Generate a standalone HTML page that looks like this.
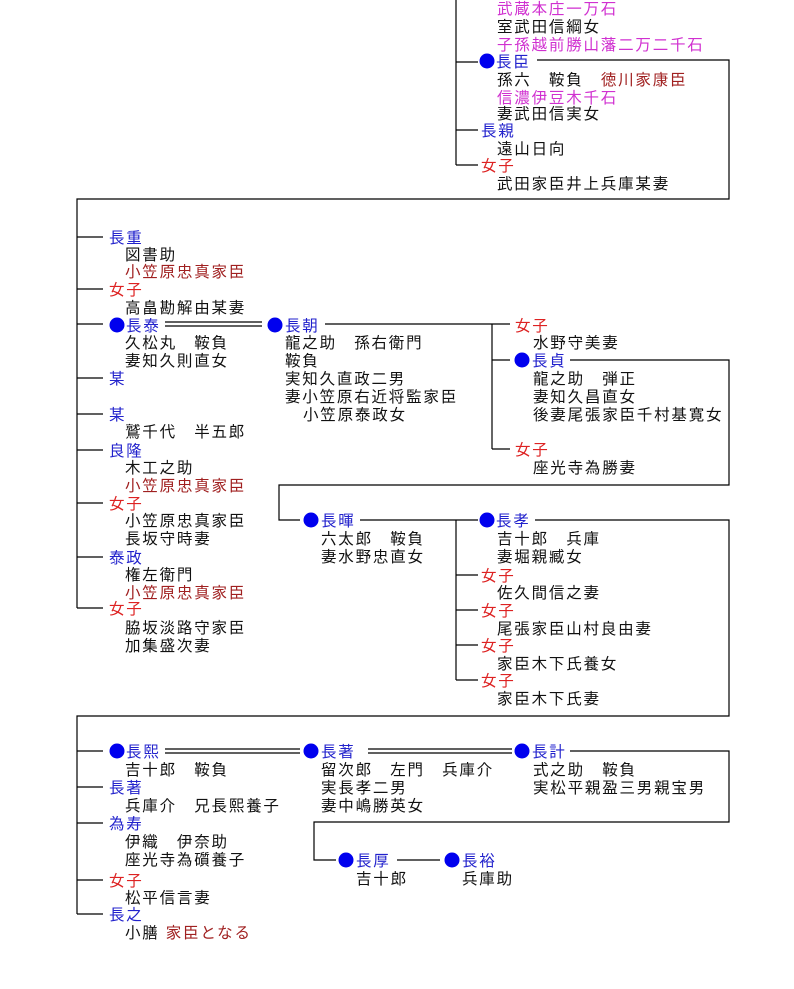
<!DOCTYPE html>
<html><head><meta charset="utf-8"><style>
body{margin:0;background:#fff;}
svg text{font-family:"Liberation Sans","Noto Sans CJK JP",sans-serif;font-size:15.5px;letter-spacing:1.8px;fill:#111;}
.b{fill:#2222cc}.r{fill:#dd2222}.d{fill:#a02020}.m{fill:#d030d0}
line,polyline{stroke:#000;stroke-width:1.2;fill:none}
circle{fill:#0000ee}
</style></head><body>
<svg width="794" height="984" viewBox="0 0 794 984" xmlns="http://www.w3.org/2000/svg">
<!-- section 1 -->
<line x1="456" y1="0" x2="456" y2="165"/>
<line x1="456" y1="62" x2="478" y2="62"/>
<line x1="456" y1="130" x2="478" y2="130"/>
<line x1="456" y1="165" x2="478" y2="165"/>
<circle cx="487" cy="61" r="7.5"/>
<polyline points="537,60 729,60 729,199 77,199 77,608"/>
<text x="497" y="14" class="m">武蔵本庄一万石</text>
<text x="497" y="32">室武田信綱女</text>
<text x="497" y="50" class="m">子孫越前勝山藩二万二千石</text>
<text x="496" y="67" class="b">長臣</text>
<text x="497" y="85">孫六　鞍負　<tspan class="d">徳川家康臣</tspan></text>
<text x="497" y="103" class="m">信濃伊豆木千石</text>
<text x="497" y="119">妻武田信実女</text>
<text x="481" y="136" class="b">長親</text>
<text x="497" y="154">遠山日向</text>
<text x="481" y="171" class="r">女子</text>
<text x="497" y="189">武田家臣井上兵庫某妻</text>

<!-- section 2 left -->
<line x1="77" y1="237" x2="103" y2="237"/>
<line x1="77" y1="289" x2="103" y2="289"/>
<line x1="77" y1="324" x2="103" y2="324"/>
<line x1="77" y1="378" x2="103" y2="378"/>
<line x1="77" y1="414" x2="103" y2="414"/>
<line x1="77" y1="450" x2="103" y2="450"/>
<line x1="77" y1="503" x2="103" y2="503"/>
<line x1="77" y1="557" x2="103" y2="557"/>
<line x1="77" y1="608" x2="103" y2="608"/>
<text x="109" y="243" class="b">長重</text>
<text x="125" y="260">図書助</text>
<text x="125" y="277" class="d">小笠原忠真家臣</text>
<text x="109" y="295" class="r">女子</text>
<text x="125" y="313">高畠勘解由某妻</text>
<circle cx="117" cy="325" r="7.5"/>
<text x="126" y="331" class="b">長泰</text>
<line x1="165" y1="322" x2="262" y2="322"/>
<line x1="165" y1="326" x2="262" y2="326"/>
<text x="125" y="348">久松丸　鞍負</text>
<text x="125" y="366">妻知久則直女</text>
<text x="109" y="384" class="b">某</text>
<text x="109" y="420" class="b">某</text>
<text x="125" y="437">鷲千代　半五郎</text>
<text x="109" y="456" class="b">良隆</text>
<text x="125" y="473">木工之助</text>
<text x="125" y="491" class="d">小笠原忠真家臣</text>
<text x="109" y="509" class="r">女子</text>
<text x="125" y="526">小笠原忠真家臣</text>
<text x="125" y="544">長坂守時妻</text>
<text x="109" y="563" class="b">泰政</text>
<text x="125" y="580">権左衛門</text>
<text x="125" y="598" class="d">小笠原忠真家臣</text>
<text x="109" y="614" class="r">女子</text>
<text x="125" y="633">脇坂淡路守家臣</text>
<text x="125" y="651">加集盛次妻</text>

<!-- 長朝 -->
<circle cx="275" cy="325" r="7.5"/>
<text x="285" y="331" class="b">長朝</text>
<line x1="325" y1="324" x2="492" y2="324"/>
<text x="285" y="348">龍之助　孫右衛門</text>
<text x="285" y="366">鞍負</text>
<text x="285" y="384">実知久直政二男</text>
<text x="285" y="402">妻小笠原右近将監家臣</text>
<text x="303" y="420">小笠原泰政女</text>
<line x1="492" y1="324" x2="492" y2="449"/>
<line x1="492" y1="324" x2="510" y2="324"/>
<line x1="492" y1="360" x2="510" y2="360"/>
<line x1="492" y1="449" x2="510" y2="449"/>
<text x="515" y="331" class="r">女子</text>
<text x="533" y="348">水野守美妻</text>
<circle cx="522" cy="360" r="7.5"/>
<text x="532" y="366" class="b">長貞</text>
<polyline points="570,360 729,360 729,485 279,485 279,520 300,520"/>
<text x="533" y="384">龍之助　弾正</text>
<text x="533" y="402">妻知久昌直女</text>
<text x="533" y="420">後妻尾張家臣千村基寛女</text>
<text x="515" y="455" class="r">女子</text>
<text x="533" y="473">座光寺為勝妻</text>

<!-- 長暉 / 長孝 -->
<circle cx="311" cy="520" r="7.5"/>
<text x="321" y="526" class="b">長暉</text>
<line x1="360" y1="520" x2="478" y2="520"/>
<text x="321" y="544">六太郎　鞍負</text>
<text x="321" y="562">妻水野忠直女</text>
<line x1="456" y1="520" x2="456" y2="680"/>
<line x1="456" y1="575" x2="478" y2="575"/>
<line x1="456" y1="610" x2="478" y2="610"/>
<line x1="456" y1="645" x2="478" y2="645"/>
<line x1="456" y1="680" x2="478" y2="680"/>
<circle cx="487" cy="520" r="7.5"/>
<text x="496" y="526" class="b">長孝</text>
<polyline points="535,520 729,520 729,716 77,716 77,914"/>
<text x="497" y="544">吉十郎　兵庫</text>
<text x="497" y="562">妻堀親臧女</text>
<text x="481" y="581" class="r">女子</text>
<text x="497" y="598">佐久間信之妻</text>
<text x="481" y="616" class="r">女子</text>
<text x="497" y="634">尾張家臣山村良由妻</text>
<text x="481" y="651" class="r">女子</text>
<text x="497" y="669">家臣木下氏養女</text>
<text x="481" y="686" class="r">女子</text>
<text x="497" y="704">家臣木下氏妻</text>

<!-- bottom -->
<line x1="77" y1="751" x2="103" y2="751"/>
<line x1="77" y1="787" x2="103" y2="787"/>
<line x1="77" y1="823" x2="103" y2="823"/>
<line x1="77" y1="880" x2="103" y2="880"/>
<line x1="77" y1="914" x2="103" y2="914"/>
<circle cx="117" cy="751" r="7.5"/>
<text x="126" y="757" class="b">長熙</text>
<line x1="165" y1="749" x2="300" y2="749"/>
<line x1="165" y1="753" x2="300" y2="753"/>
<text x="125" y="775">吉十郎　鞍負</text>
<text x="109" y="793" class="b">長著</text>
<text x="125" y="811">兵庫介　兄長熙養子</text>
<text x="109" y="829" class="b">為寿</text>
<text x="125" y="847">伊織　伊奈助</text>
<text x="125" y="865">座光寺為礩養子</text>
<text x="109" y="886" class="r">女子</text>
<text x="125" y="903">松平信言妻</text>
<text x="109" y="920" class="b">長之</text>
<text x="125" y="938">小膳 <tspan class="d">家臣となる</tspan></text>

<circle cx="311" cy="751" r="7.5"/>
<text x="321" y="757" class="b">長著</text>
<line x1="368" y1="749" x2="512" y2="749"/>
<line x1="368" y1="753" x2="512" y2="753"/>
<text x="321" y="775">留次郎　左門　兵庫介</text>
<text x="321" y="793">実長孝二男</text>
<text x="321" y="811">妻中嶋勝英女</text>

<circle cx="522" cy="751" r="7.5"/>
<text x="532" y="757" class="b">長計</text>
<polyline points="570,751 729,751 729,822 314,822 314,860 336,860"/>
<text x="533" y="775">式之助　鞍負</text>
<text x="533" y="793">実松平親盈三男親宝男</text>

<circle cx="346" cy="860" r="7.5"/>
<text x="356" y="866" class="b">長厚</text>
<line x1="397" y1="860" x2="440" y2="860"/>
<text x="356" y="884">吉十郎</text>
<circle cx="452" cy="860" r="7.5"/>
<text x="462" y="866" class="b">長裕</text>
<text x="462" y="884">兵庫助</text>
</svg>
</body></html>
